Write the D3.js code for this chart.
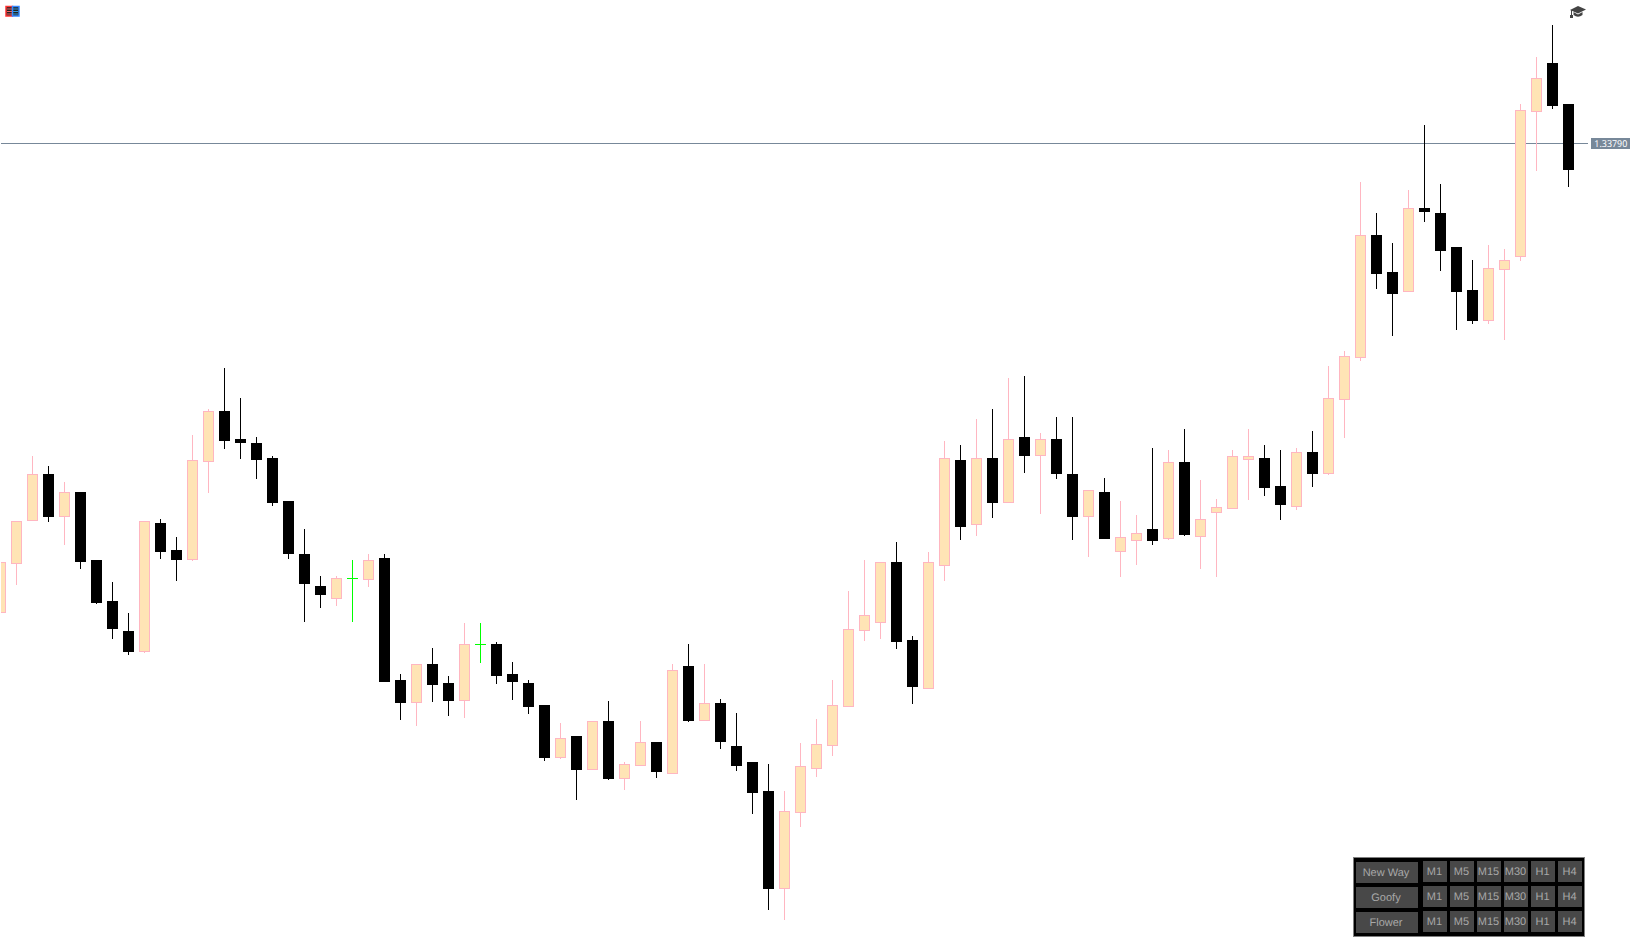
<!DOCTYPE html>
<html>
<head>
<meta charset="utf-8">
<script src="https://cdn.jsdelivr.net/npm/d3@7/dist/d3.min.js"></script>
<style>html,body{margin:0;padding:0;background:#fff;overflow:hidden}svg{display:block}text{-webkit-font-smoothing:antialiased;text-rendering:geometricPrecision}</style>
</head>
<body>
<div id="chart"></div>
<script>
const opens=[1.33320,1.33369,1.33412,1.33459,1.33416,1.33441,1.33373,1.33332,1.33302,1.33281,1.33410,1.33383,1.33373,1.33471,1.33522,1.33494,1.33490,1.33475,1.33432,1.33379,1.33347,1.33334,1.33355,1.33353,1.33375,1.33253,1.33230,1.33269,1.33250,1.33232,1.33289,1.33289,1.33259,1.33250,1.33228,1.33175,1.33197,1.33163,1.33212,1.33154,1.33167,1.33191,1.33159,1.33267,1.33212,1.33230,1.33187,1.33171,1.33142,1.33044,1.33120,1.33164,1.33187,1.33226,1.33302,1.33310,1.33371,1.33293,1.33244,1.33367,1.33473,1.33408,1.33475,1.33430,1.33496,1.33477,1.33494,1.33459,1.33416,1.33441,1.33381,1.33392,1.33404,1.33394,1.33471,1.33396,1.33420,1.33424,1.33473,1.33475,1.33447,1.33426,1.33481,1.33459,1.33533,1.33575,1.33698,1.33661,1.33641,1.33725,1.33720,1.33686,1.33643,1.33612,1.33663,1.33676,1.33821,1.33870,1.33829];
const highs=[1.33371,1.33412,1.33477,1.33467,1.33451,1.33441,1.33373,1.33351,1.33320,1.33412,1.33414,1.33396,1.33498,1.33524,1.33565,1.33535,1.33496,1.33477,1.33432,1.33404,1.33357,1.33357,1.33373,1.33379,1.33379,1.33259,1.33269,1.33285,1.33257,1.33310,1.33310,1.33291,1.33271,1.33253,1.33228,1.33210,1.33197,1.33212,1.33232,1.33171,1.33212,1.33191,1.33269,1.33289,1.33269,1.33234,1.33220,1.33171,1.33169,1.33142,1.33190,1.33214,1.33253,1.33342,1.33373,1.33371,1.33391,1.33297,1.33381,1.33492,1.33488,1.33514,1.33524,1.33555,1.33557,1.33500,1.33516,1.33516,1.33443,1.33455,1.33432,1.33418,1.33485,1.33483,1.33504,1.33453,1.33434,1.33483,1.33504,1.33488,1.33483,1.33485,1.33502,1.33567,1.33582,1.33751,1.33720,1.33690,1.33743,1.33808,1.33749,1.33686,1.33673,1.33688,1.33684,1.33829,1.33876,1.33908,1.33829];
const lows=[1.33320,1.33348,1.33412,1.33411,1.33388,1.33364,1.33329,1.33294,1.33278,1.33280,1.33374,1.33352,1.33372,1.33440,1.33484,1.33474,1.33454,1.33427,1.33374,1.33311,1.33325,1.33327,1.33311,1.33346,1.33251,1.33213,1.33207,1.33231,1.33217,1.33215,1.33270,1.33249,1.33233,1.33219,1.33172,1.33174,1.33133,1.33163,1.33153,1.33143,1.33167,1.33155,1.33159,1.33211,1.33212,1.33184,1.33162,1.33119,1.33023,1.33013,1.33106,1.33156,1.33177,1.33226,1.33292,1.33294,1.33284,1.33229,1.33244,1.33352,1.33393,1.33397,1.33415,1.33430,1.33460,1.33419,1.33454,1.33393,1.33376,1.33394,1.33356,1.33368,1.33388,1.33393,1.33397,1.33364,1.33356,1.33424,1.33433,1.33437,1.33413,1.33423,1.33446,1.33458,1.33495,1.33572,1.33644,1.33597,1.33641,1.33711,1.33662,1.33603,1.33609,1.33609,1.33593,1.33672,1.33762,1.33824,1.33746];
const closes=[1.33371,1.33412,1.33459,1.33416,1.33441,1.33371,1.33330,1.33304,1.33281,1.33412,1.33381,1.33373,1.33473,1.33522,1.33492,1.33490,1.33473,1.33430,1.33379,1.33349,1.33338,1.33355,1.33355,1.33373,1.33251,1.33230,1.33269,1.33248,1.33232,1.33289,1.33289,1.33257,1.33251,1.33226,1.33175,1.33195,1.33163,1.33212,1.33154,1.33169,1.33191,1.33161,1.33263,1.33212,1.33230,1.33191,1.33167,1.33140,1.33044,1.33122,1.33167,1.33189,1.33228,1.33304,1.33318,1.33371,1.33291,1.33246,1.33371,1.33475,1.33406,1.33475,1.33430,1.33494,1.33477,1.33494,1.33459,1.33416,1.33443,1.33394,1.33396,1.33400,1.33392,1.33471,1.33398,1.33414,1.33426,1.33477,1.33477,1.33445,1.33428,1.33481,1.33459,1.33535,1.33577,1.33698,1.33659,1.33639,1.33725,1.33721,1.33682,1.33641,1.33612,1.33665,1.33673,1.33823,1.33855,1.33827,1.33763];
const lastPrice=1.33790;
const lastPriceLabel="1.33790";
const groupNames=["New Way","Goofy","Flower"];
const timeframes=["M1","M5","M15","M30","H1","H4"];

const W=1636,H=950;
const svg=d3.select("#chart").append("svg").attr("width",W).attr("height",H);
const x=d3.scaleLinear().domain([0,98]).range([0.5,1568.5]);
const y=d3.scaleLinear().domain([1.33933,1.32983]).range([0,950]);
const py=v=>Math.round(y(v));

svg.append("defs").append("clipPath").attr("id","plot").append("rect").attr("x",1).attr("y",0).attr("width",W-1).attr("height",H);
const BODY="#FFE4B5",PINK="#FFB6C1",SLATE="#778899";

// price line
svg.append("line").attr("x1",1).attr("x2",1588).attr("y1",py(lastPrice)+0.5).attr("y2",py(lastPrice)+0.5)
  .attr("stroke",SLATE).attr("stroke-width",1);

const data=opens.map((o,i)=>({i,o,h:highs[i],l:lows[i],c:closes[i]}));
const plot=svg.append("g").attr("clip-path","url(#plot)");
const col=d=>d.c>d.o?PINK:(d.c<d.o?"#000":"#00FF00");

plot.selectAll("rect.wick").data(data).join("rect").attr("class","wick")
  .attr("x",d=>x(d.i)-0.5).attr("width",1)
  .attr("y",d=>py(d.h)).attr("height",d=>py(d.l)-py(d.h))
  .attr("fill",col);

plot.selectAll("rect.body").data(data.filter(d=>d.c!==d.o)).join("rect").attr("class","body")
  .each(function(d){
    const t=py(Math.max(d.o,d.c)),b=py(Math.min(d.o,d.c)),el=d3.select(this);
    if(d.c>d.o){
      el.attr("x",x(d.i)-5).attr("width",10).attr("y",t+0.5).attr("height",b-t-1)
        .attr("fill",BODY).attr("stroke",PINK).attr("stroke-width",1);
    }else{
      el.attr("x",x(d.i)-5.5).attr("width",11).attr("y",t).attr("height",b-t).attr("fill","#000");
    }
  });

plot.selectAll("rect.doji").data(data.filter(d=>d.c===d.o)).join("rect").attr("class","doji")
  .attr("x",d=>x(d.i)-5.5).attr("width",11).attr("y",d=>py(d.c)).attr("height",1).attr("fill","#00FF00");

// last price tag
svg.append("rect").attr("x",1591).attr("y",138).attr("width",39).attr("height",11).attr("fill",SLATE);
svg.append("text").attr("x",1610.8).attr("y",147.2).attr("text-anchor","middle")
  .attr("font-family","'Noto Sans',sans-serif").attr("font-size",9.5).attr("fill","#fff")
  .attr("textLength",33).attr("lengthAdjust","spacingAndGlyphs").text(lastPriceLabel);

// panel
const panel=svg.append("g");
panel.append("rect").attr("x",1353.5).attr("y",857.5).attr("width",231).attr("height",79)
  .attr("fill","#000").attr("stroke","#808080").attr("stroke-width",1);
const BTN="#484848",TXT="#A8A8A8";
const labelStyle=s=>s.attr("text-anchor","middle").attr("font-family","'Liberation Sans',Arial,sans-serif")
  .attr("font-size",11).attr("fill",TXT);
groupNames.forEach((name,r)=>{
  const ry=862+25*r;
  panel.append("rect").attr("x",1356).attr("y",ry).attr("width",62).attr("height",21).attr("fill",BTN);
  panel.append("text").attr("x",1386).attr("y",ry+13.8).call(labelStyle).text(name);
  timeframes.forEach((tf,c)=>{
    const cx=1423+27*c,cy=861+25*r;
    panel.append("rect").attr("x",cx).attr("y",cy).attr("width",24).attr("height",21).attr("fill",BTN);
    panel.append("text").attr("x",cx+11.5).attr("y",cy+13.8).call(labelStyle).text(tf);
  });
});

// top-right cap icon
const cap=svg.append("g").attr("fill","#444");
cap.append("path").attr("d","M1570 10 L1578 6 L1586 9.5 L1578 13.5 Z");
cap.append("path").attr("d","M1573.5 12 L1578 14.5 L1582.5 12 L1582.5 15 Q1578 18.5 1573.5 15 Z");
cap.append("rect").attr("x",1571).attr("y",10).attr("width",1).attr("height",6);
cap.append("rect").attr("x",1570).attr("y",15).attr("width",3).attr("height",3);

// top-left menu icon
const ic=svg.append("g");
ic.append("rect").attr("x",6).attr("y",6.5).attr("width",6.5).attr("height",9.5).attr("fill","#222").attr("stroke","#f33").attr("stroke-width",1.5);
ic.append("rect").attr("x",12.5).attr("y",6.5).attr("width",6.5).attr("height",9.5).attr("fill","#222").attr("stroke","#38f").attr("stroke-width",1.5);
[8.5,11,13.5].forEach(v=>{
  ic.append("rect").attr("x",7).attr("y",v).attr("width",5).attr("height",1).attr("fill","#e66");
  ic.append("rect").attr("x",13).attr("y",v).attr("width",5).attr("height",1).attr("fill","#39d");
});
</script>
</body>
</html>
